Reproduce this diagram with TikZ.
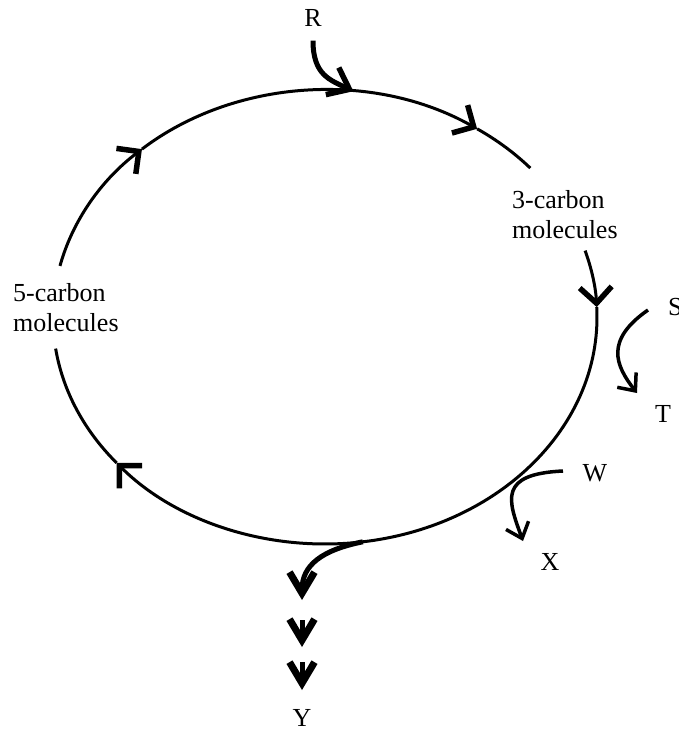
\documentclass[tikz,border=0pt]{standalone}
\usepackage{fontspec}
\setmainfont{Liberation Serif}
\usetikzlibrary{arrows.meta,calc}

\tikzset{
  cyctip/.tip={Straight Barb[length=16pt,width=32pt,line width=5.5pt]},
  sidetip/.tip={Straight Barb[length=14pt,width=24pt,line width=3.5pt]},
  intip/.tip={Straight Barb[length=19pt,width=30pt,line width=5.5pt]},
  outtip/.tip={Straight Barb[length=21pt,width=25pt,line width=7pt]},
  cycle line/.style={line width=3pt},
  side line/.style={line width=3.5pt},
  lbl/.style={font=\fontsize{26}{30}\selectfont,inner sep=0pt}
}

\begin{document}
\begin{tikzpicture}[x=1pt,y=-1pt]
  \useasboundingbox (0,0) rectangle (679,733);
  \coordinate (o) at (325,317);

  % the cycle
  \foreach \a/\b in {-17/-2.5,-2.5/140,193/227.7,227.7/304}
    \draw[cycle line,-cyctip] ($(o)+(\a:272 and 227)$)
      arc[start angle=\a,end angle=\b,x radius=272,y radius=227];
  \foreach \a/\b in {140/172,304/319}
    \draw[cycle line] ($(o)+(\a:272 and 227)$)
      arc[start angle=\a,end angle=\b,x radius=272,y radius=227];

  % labels
  \node[lbl] (r) at (313,18) {R};
  \node[lbl,anchor=west] (s) at (668,307) {S};
  \node[lbl] (t) at (663,414) {T};
  \node[lbl] (w) at (595,473) {W};
  \node[lbl] (x) at (550,562) {X};
  \node[lbl] (y) at (302,718) {Y};
  \node[lbl,align=left,anchor=north west] (c3) at (512,190) {3-carbon\\molecules};
  \node[lbl,align=left,anchor=north west] (c5) at (13,283) {5-carbon\\molecules};

  % ends of the side arrows
  \coordinate (rin) at ($(o)+(-84:272 and 227)$);
  \coordinate (yout) at ($(o)+(82:272 and 227)$);
  \coordinate (tin) at (637,393);
  \coordinate (wout) at (563,471);
  \coordinate (xin) at (523,541);
  \coordinate (y1) at (302,600);
  \coordinate (y2) at (302,647);
  \coordinate (y3) at (302,690);

  % side arrows
  \draw[line width=5pt,-intip] ($(r.south)+(0,14)$) .. controls (313,75) and (330,80) .. (rin);
  \draw[side line,-sidetip] ($(s.west)+(-20,3)$) .. controls (605,340) and (615,365) .. (tin);
  \draw[side line,-sidetip] (wout) .. controls (498,474) and (508,500) .. (xin);
  \draw[line width=5pt,-outtip] (yout) .. controls (322,550) and (302,565) .. (y1);
  \draw[line width=5pt,-outtip] ($(y1)+(0,20)$) -- (y2);
  \draw[line width=5pt,-outtip] ($(y2)+(0,15)$) -- (y3);
\end{tikzpicture}
\end{document}
